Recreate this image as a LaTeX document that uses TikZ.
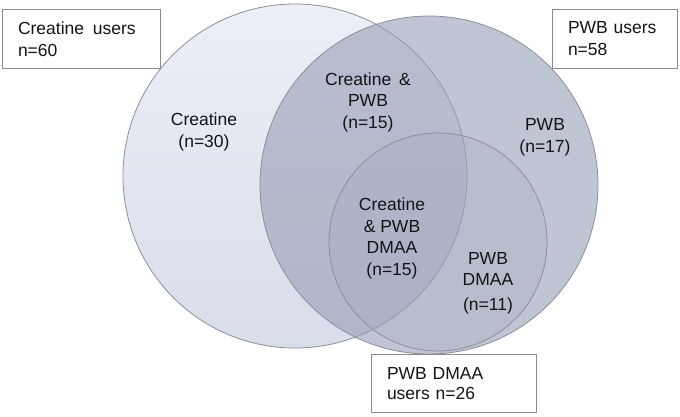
\documentclass[tikz,border=0pt]{standalone}
\usepackage{fontspec}
\setmainfont{Liberation Sans}
\definecolor{outline}{RGB}{138,143,154}
\definecolor{creatop}{RGB}{236,239,246}
\definecolor{creabot}{RGB}{216,221,234}
\definecolor{pwbfill}{RGB}{150,158,182}
\definecolor{boxline}{RGB}{140,140,140}
\definecolor{txt}{RGB}{20,20,20}
\begin{document}
\begin{tikzpicture}[x=1pt,y=-1pt,
  lbl/.style={align=center, text=txt, font=\fontsize{17.5}{21.5}\selectfont, inner sep=0pt, anchor=base},
  userbox/.style={draw=boxline, line width=1pt, fill=white, anchor=north west, align=left,
    text=txt, font=\fontsize{17.5}{22}\selectfont, inner xsep=15.5pt, inner ysep=0pt},
  ring/.style={draw=outline, line width=0.8pt}]
\useasboundingbox (0,0) rectangle (680,416);
% circles
\shade[top color=creatop, bottom color=creabot] (295,176) circle[radius=172];
\draw[ring] (295,176) circle[radius=172];
\fill[pwbfill, fill opacity=0.6] (429,185) circle[radius=169];
\draw[ring] (429,185) circle[radius=169];
\fill[pwbfill, fill opacity=0.2] (438,242) circle[radius=109];
\draw[ring] (438,242) circle[radius=109];
% region labels (anchor = baseline of last line)
\node[lbl] (crea) at (204,147) {Creatine\\ (n=30)};
\node[lbl] (creapwb) at (368,128) {Creatine \,\&\\PWB\\(n=15)};
\node[lbl] (pwb) at (545,152) {PWB\\(n=17)};
\node[lbl] (triple) at (392,275) {Creatine\\\& PWB\\DMAA\\(n=15)};
\node[lbl] (pwbdmaa) at (488,310) {PWB\\DMAA\\[3pt](n=11)};
% boxes
\node[userbox, text width=127pt, minimum height=59pt] (creausers) at (2,9) {Creatine \,users\\n=60};
\node[userbox, text width=94pt, minimum height=59pt] (pwbusers) at (552,9) {PWB users\\n=58};
\node[userbox, text width=134pt, minimum height=58pt, font=\fontsize{17.5}{20.5}\selectfont] (dmaausers) at (371,354) {PWB DMAA\\users n=26};
\end{tikzpicture}
\end{document}
